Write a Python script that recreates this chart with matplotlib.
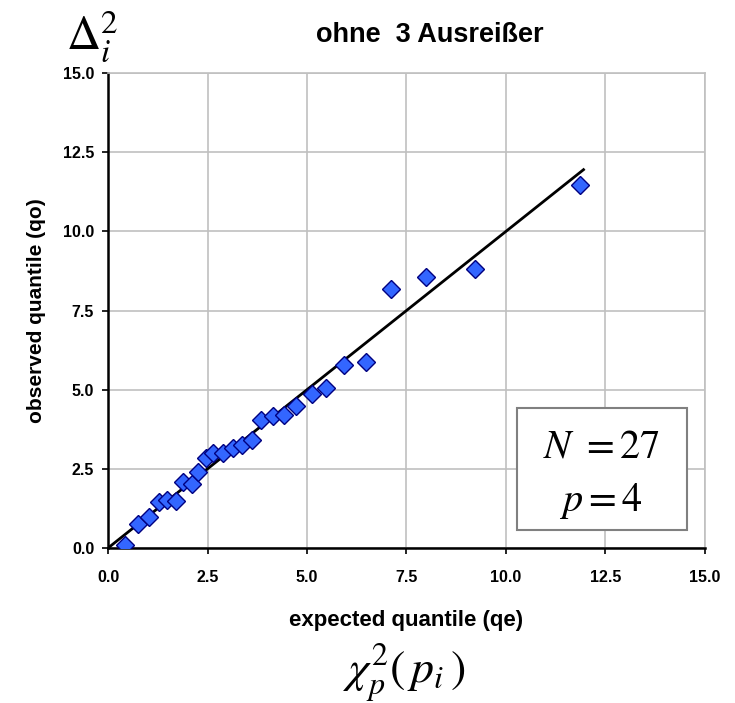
import matplotlib
matplotlib.use('Agg')
import matplotlib.pyplot as plt
from matplotlib.patches import Rectangle

plt.rcParams['font.family'] = 'sans-serif'
plt.rcParams['font.sans-serif'] = ['Liberation Sans', 'DejaVu Sans']
plt.rcParams['mathtext.fontset'] = 'stix'

# expected vs observed quantiles (27 Punkte, ohne 3 Ausreisser)
qe = [0.43, 0.76, 1.04, 1.29, 1.47, 1.71, 1.88, 2.10, 2.27, 2.46,
      2.65, 2.88, 3.13, 3.36, 3.61, 3.84, 4.14, 4.43, 4.72, 5.12,
      5.48, 5.94, 6.48, 7.11, 7.98, 9.23, 11.86]
qo = [0.09, 0.76, 0.99, 1.44, 1.52, 1.49, 2.09, 2.02, 2.39, 2.85,
      3.01, 2.99, 3.15, 3.25, 3.41, 4.04, 4.18, 4.20, 4.48, 4.85,
      5.04, 5.78, 5.88, 8.17, 8.55, 8.81, 11.48]

# Referenzlinie qo = qe
ref_x = [0.0, 11.95]
ref_y = [0.0, 11.95]

ticks = [0.0, 2.5, 5.0, 7.5, 10.0, 12.5, 15.0]
tick_labels = ['0.0', '2.5', '5.0', '7.5', '10.0', '12.5', '15.0']

fig = plt.figure(figsize=(7.35, 7.03), dpi=100)
ax = fig.add_axes([0.147, 0.2205, 0.812, 0.6755])

ax.plot(ref_x, ref_y, color='black', linewidth=2.0, zorder=3)
ax.plot(qe, qo, linestyle='none', marker='D', markersize=9.5,
        markerfacecolor='#3366FF', markeredgecolor='#000080',
        markeredgewidth=1.0, zorder=4)

ax.set_xlim(0, 15)
ax.set_ylim(0, 15)
ax.set_xticks(ticks)
ax.set_yticks(ticks)
ax.set_xticklabels(tick_labels, fontsize=11.5, fontweight='bold')
ax.set_yticklabels(tick_labels, fontsize=11.5, fontweight='bold')
ax.tick_params(direction='out', length=4, width=1.2, colors='black')
ax.tick_params(axis='x', pad=12)
ax.tick_params(axis='y', pad=6)

ax.grid(True, color='#c0c0c0', linewidth=1.2)
ax.set_axisbelow(True)
for side in ['top', 'right']:
    ax.spines[side].set_color('#c0c0c0')
    ax.spines[side].set_linewidth(1.2)
for side in ['left', 'bottom']:
    ax.spines[side].set_color('black')
    ax.spines[side].set_linewidth(1.8)

ax.set_xlabel('expected quantile (qe)', fontsize=16, fontweight='bold', labelpad=18)
ax.set_ylabel('observed quantile (qo)', fontsize=15, fontweight='bold', labelpad=12)

# Box mit N und p
ax.add_patch(Rectangle((0.685, 0.038), 0.285, 0.257, transform=ax.transAxes,
                       facecolor='white', edgecolor='#808080', linewidth=1.5, zorder=5))
ax.text(0.826, 0.213, r'$N\ =27$', transform=ax.transAxes, fontsize=29,
        ha='center', va='center', zorder=6)
ax.text(0.826, 0.098, r'$p=4$', transform=ax.transAxes, fontsize=29,
        ha='center', va='center', zorder=6)

fig.text(0.585, 0.95, 'ohne  3 Ausreißer', fontsize=19.5, fontweight='bold',
         ha='center', va='center')
fig.text(0.125, 0.948, r'$\Delta_i^2$', fontsize=34, ha='center', va='center')
fig.text(0.55, 0.042, r'$\chi_p^2\left(\,p_i\,\right)$', fontsize=33,
         ha='center', va='center')

fig.savefig('out.png', dpi=100)
